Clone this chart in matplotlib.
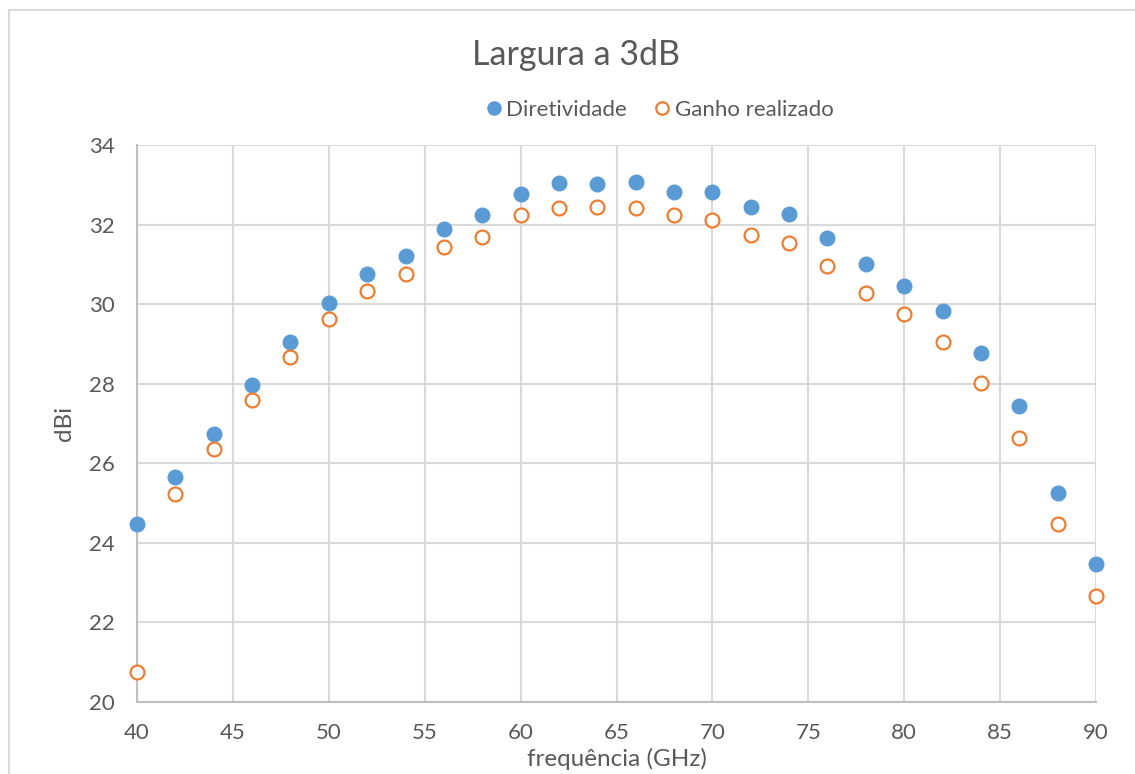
import matplotlib.pyplot as plt
from matplotlib.patches import Rectangle

plt.rcParams['font.family'] = ['Lato', 'DejaVu Sans']

freq = [40, 42, 44, 46, 48, 50, 52, 54, 56, 58, 60, 62, 64, 66, 68,
        70, 72, 74, 76, 78, 80, 82, 84, 86, 88, 90]
diretividade = [24.47, 25.65, 26.73, 27.96, 29.05, 30.03, 30.76, 31.22, 31.90,
                32.23, 32.78, 33.04, 33.03, 33.06, 32.83, 32.81, 32.44, 32.27,
                31.65, 31.00, 30.45, 29.82, 28.78, 27.43, 25.25, 23.48]
ganho = [20.75, 25.24, 26.35, 27.60, 28.66, 29.62, 30.34, 30.77, 31.43,
         31.69, 32.23, 32.42, 32.43, 32.42, 32.23, 32.11, 31.75, 31.54,
         30.97, 30.29, 29.75, 29.05, 28.01, 26.63, 24.47, 22.66]

txt = '#595959'
blue = '#5B9BD5'
orange = '#ED7D31'

fig = plt.figure(figsize=(11.35, 7.74), dpi=100)
ax = fig.add_axes([137/1135, 1 - 702/774, (1096-137)/1135, (702-145)/774])

ax.plot(freq, diretividade, 'o', color=blue, markersize=10.5, label='Diretividade',
        clip_on=False, zorder=3)
ax.plot(freq, ganho, 'o', markerfacecolor='white', markeredgecolor=orange,
        markeredgewidth=1.6, markersize=10, label='Ganho realizado', clip_on=False, zorder=3)

ax.set_xlim(40, 90)
ax.set_ylim(20, 34)
ax.set_xticks(range(40, 91, 5))
ax.set_yticks(range(20, 35, 2))
ax.grid(True, color='#D9D9D9', linewidth=1.5)
ax.set_axisbelow(True)
for s in ['top', 'right']:
    ax.spines[s].set_visible(False)
for s in ['left', 'bottom']:
    ax.spines[s].set_color('#BFBFBF')
    ax.spines[s].set_linewidth(1.5)
ax.tick_params(length=0, labelsize=16, labelcolor=txt)
ax.tick_params(axis='x', pad=15)
ax.tick_params(axis='y', pad=16)

ax.set_xlabel('frequência (GHz)', fontsize=17.5, color=txt, labelpad=4)
ax.set_ylabel('dBi', fontsize=17.5, color=txt, labelpad=10)

fig.text(576/1135, 1 - 55/774, 'Largura a 3dB', fontsize=24.5, color=txt,
         ha='center', va='center')
fig.legend(loc='center', bbox_to_anchor=(658/1135, 1 - 110/774), ncol=2,
           frameon=False, fontsize=16, labelcolor=txt, handletextpad=0.05,
           columnspacing=1.1, handlelength=1.0, markerscale=0.9)

# chart area border
fig.patches.append(Rectangle((9/1135, -0.1), 1.2, 1 - 10/774 + 0.1,
                             transform=fig.transFigure, fill=False,
                             edgecolor='#D9D9D9', linewidth=1.5))

fig.savefig('out.png', dpi=100, facecolor='white')
